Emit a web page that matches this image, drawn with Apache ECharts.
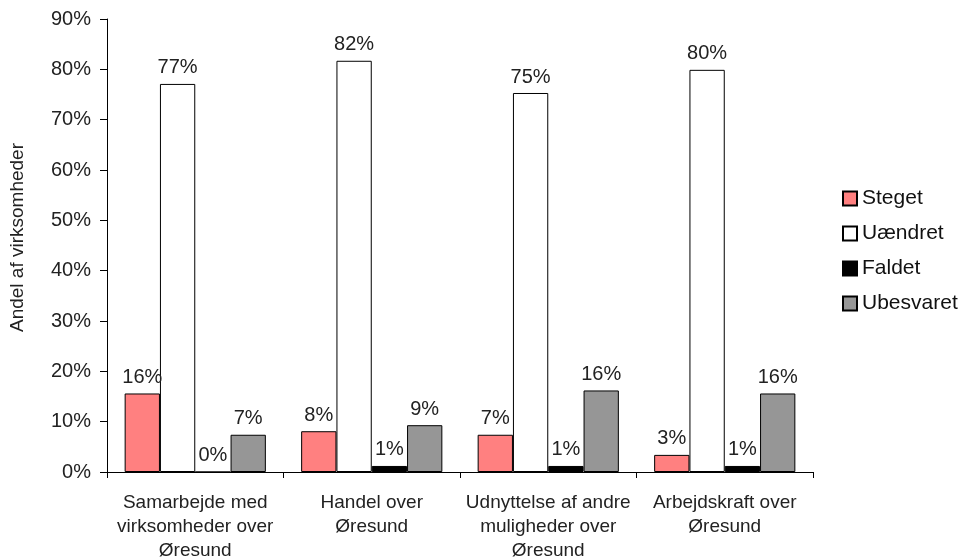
<!DOCTYPE html>
<html>
<head>
<meta charset="utf-8">
<script src="https://cdn.jsdelivr.net/npm/echarts@6/dist/echarts.min.js"></script>
<style>
  html, body { margin: 0; padding: 0; background: #fff; }
  #chart { width: 961px; height: 560px; }
</style>
</head>
<body>
<div id="chart"></div>
<script>
// kategorier på x-aksen
const categories = [
  'Samarbejde med\nvirksomheder over\nØresund',
  'Handel over\nØresund',
  'Udnyttelse af andre\nmuligheder over\nØresund',
  'Arbejdskraft over\nØresund'
]

// andele i procent (aflæst)
const steget = [15.6, 8.1, 7.4, 3.4]
const uaendret = [77.1, 81.7, 75.3, 79.9]
const faldet = [0, 1.2, 1.2, 1.2]
const ubesvaret = [7.4, 9.3, 16.2, 15.6]

const font = 'Liberation Sans, Arial, sans-serif'

const mkSeries = (name, data, color) => ({
  name: name,
  type: 'bar',
  data: data,
  barGap: '0%',
  barCategoryGap: '20%',
  itemStyle: { color: color, borderColor: '#000', borderWidth: 1 },
  label: {
    show: true,
    position: 'top',
    distance: 6,
    color: '#222',
    fontFamily: font,
    fontSize: 20,
    formatter: p => Math.round(p.value) + '%'
  }
})

const chart = echarts.init(document.getElementById('chart'))
chart.setOption({
  animation: false,
  textStyle: { fontFamily: font },
  grid: { left: 107, right: 148, top: 19, bottom: 88, outerBoundsMode: 'none', containLabel: false },
  legend: {
    orient: 'vertical',
    left: 837,
    top: 183,
    itemWidth: 14,
    itemHeight: 14,
    itemGap: 14,
    icon: 'rect',
    textStyle: { fontSize: 21, color: '#111', fontFamily: font }
  },
  xAxis: {
    type: 'category',
    data: categories,
    axisLine: { lineStyle: { color: '#000' } },
    axisTick: { show: true, length: 6, lineStyle: { color: '#000' } },
    axisLabel: {
      interval: 0,
      color: '#222',
      fontSize: 19,
      lineHeight: 24,
      margin: 19,
      fontFamily: font,
      verticalAlign: 'top'
    }
  },
  yAxis: {
    type: 'value',
    min: 0,
    max: 90,
    interval: 10,
    name: 'Andel af virksomheder',
    nameLocation: 'middle',
    nameGap: 80,
    nameTextStyle: { fontSize: 19, color: '#222', fontFamily: font, padding: [0, 0, 0, 16] },
    axisLine: { show: true, lineStyle: { color: '#000' } },
    axisTick: { show: true, length: 7, lineStyle: { color: '#000' } },
    splitLine: { show: false },
    axisLabel: {
      color: '#222',
      fontSize: 20,
      margin: 16,
      fontFamily: font,
      formatter: '{value}%'
    }
  },
  series: [
    mkSeries('Steget', steget, '#ff8080'),
    mkSeries('Uændret', uaendret, '#ffffff'),
    mkSeries('Faldet', faldet, '#000000'),
    mkSeries('Ubesvaret', ubesvaret, '#969696')
  ]
})
</script>
</body>
</html>
